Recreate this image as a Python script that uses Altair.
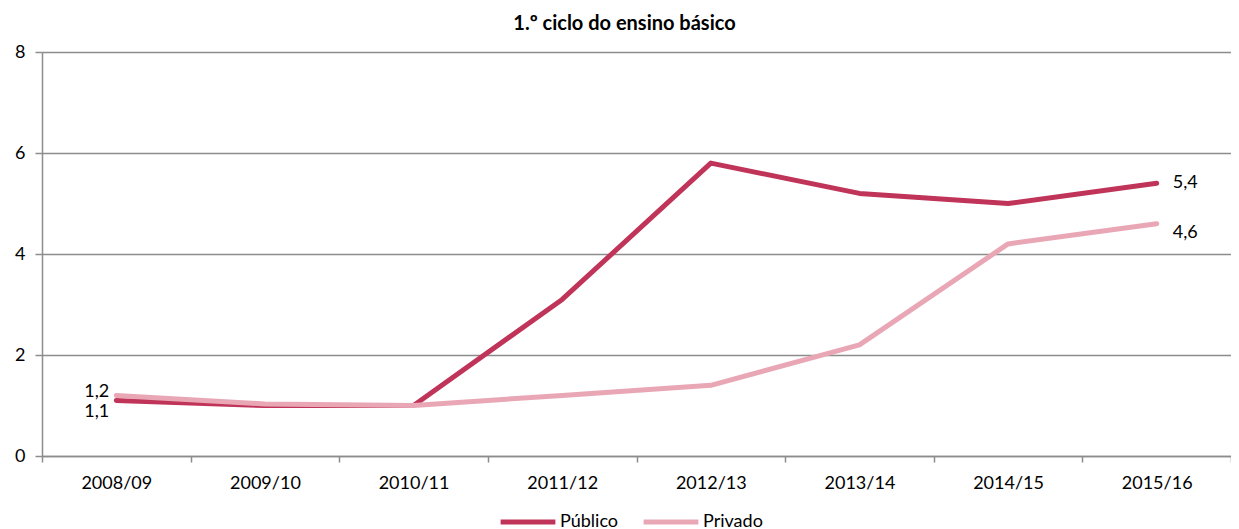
import altair as alt
import pandas as pd

categories = ["2008/09", "2009/10", "2010/11", "2011/12", "2012/13", "2013/14", "2014/15", "2015/16"]
publico = [1.1, 1.0, 1.0, 3.1, 5.8, 5.2, 5.0, 5.4]
privado = [1.2, 1.03, 1.0, 1.2, 1.4, 2.2, 4.2, 4.6]
series_names = ["Público", "Privado"]
series_colors = ["#BF3458", "#E9A7B6"]
y_ticks = [0, 2, 4, 6, 8]

rows = []
for name, vals in zip(series_names, [publico, privado]):
    for i, (c, v) in enumerate(zip(categories, vals)):
        rows.append({"ano": c, "serie": name, "valor": v, "idx": i,
                     "rotulo": f"{v:.1f}".replace(".", ",")})
df = pd.DataFrame(rows)

FONT = "Lato"
FS = 18

x_enc = alt.X("ano:N", sort=categories, title=None,
              scale=alt.Scale(paddingInner=0, paddingOuter=0),
              axis=alt.Axis(labelAngle=0, tickBand="extent", domainColor="#8C8C8C",
                            tickColor="#8C8C8C", domainWidth=1.5, tickWidth=1.5, tickSize=6,
                            labelPadding=12, labelFontSize=FS, labelFont=FONT,
                            labelColor="#000000", grid=False))
y_enc = alt.Y("valor:Q", title=None,
              scale=alt.Scale(domain=[0, 8], nice=False),
              axis=alt.Axis(values=y_ticks, grid=True, gridColor="#8C8C8C", gridWidth=1.5,
                            domainColor="#8C8C8C", domainWidth=1.5, tickColor="#8C8C8C",
                            tickWidth=1.5, tickSize=7, labelPadding=10, labelFontSize=FS,
                            labelFont=FONT, labelColor="#000000"))
color_enc = alt.Color("serie:N",
                      scale=alt.Scale(domain=series_names, range=series_colors),
                      legend=alt.Legend(title=None, orient="none", legendX=456, legendY=440,
                                        direction="horizontal", symbolType="stroke",
                                        symbolStrokeWidth=5, symbolSize=3000,
                                        labelFontSize=FS, labelFont=FONT, labelColor="#000000",
                                        columnPadding=14, labelOffset=2, padding=0))

base = alt.Chart(df)

lines = []
for name in series_names:
    lines.append(base.transform_filter(alt.datum.serie == name).mark_line(
        strokeWidth=5, strokeCap="round", strokeJoin="round"
    ).encode(x=x_enc, y=y_enc, color=color_enc))

def lab(name, idx, align, dx, dy):
    return base.transform_filter(
        (alt.datum.serie == name) & (alt.datum.idx == idx)
    ).mark_text(align=align, dx=dx, dy=dy, fontSize=FS, font=FONT, color="#000000").encode(
        x=alt.X("ano:N", sort=categories), y="valor:Q", text="rotulo:N")

labels = [
    lab("Público", 0, "right", -7, 12),
    lab("Privado", 0, "right", -7, -3),
    lab("Público", 7, "left", 16, 0),
    lab("Privado", 7, "left", 16, 9),
]

chart = alt.layer(*lines, *labels).properties(
    width=1189, height=404,
    title=alt.TitleParams("1.º ciclo do ensino básico", font=FONT, fontSize=20,
                          fontWeight="bold", color="#000000", anchor="middle", dx=-12, offset=9),
    padding={"left": 34, "top": 44, "right": 0, "bottom": 80},
    autosize=alt.AutoSizeParams(type="none"),
).configure_view(stroke=None).configure(background="#FFFFFF")

chart.save("out.html", embed_options={"renderer": "svg", "actions": False})
